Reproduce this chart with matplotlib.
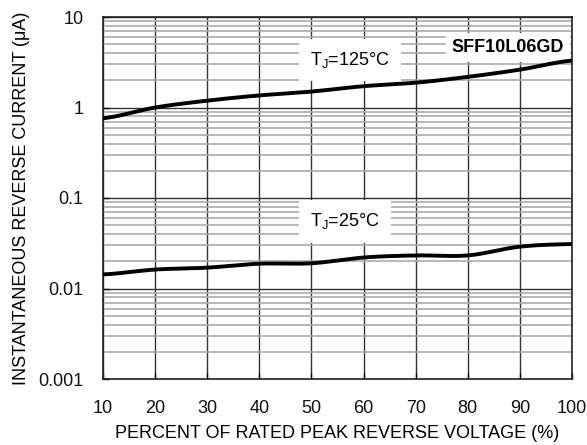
import matplotlib
matplotlib.use("Agg")
import matplotlib.pyplot as plt
import numpy as np
from matplotlib.ticker import LogLocator, NullFormatter

plt.rcParams['font.family'] = ['Liberation Sans', 'DejaVu Sans']

x_pct = [10, 20, 30, 40, 50, 60, 70, 80, 90, 100]
i_125 = [0.76, 1.0, 1.19, 1.36, 1.50, 1.72, 1.88, 2.18, 2.62, 3.3]
i_25 = [0.0143, 0.0162, 0.0170, 0.0188, 0.0190, 0.0220, 0.0232, 0.0232, 0.0290, 0.0310]
y_ticks = [0.001, 0.01, 0.1, 1, 10]
y_labels = ['0.001', '0.01', '0.1', '1', '10']
x_ticks = [10, 20, 30, 40, 50, 60, 70, 80, 90, 100]

fig = plt.figure(figsize=(5.87, 4.45), dpi=100)
ax = fig.add_axes([103/587, 1-379/445, (572-103)/587, (379-17)/445])

ax.set_yscale('log')
ax.set_xlim(10, 100)
ax.set_ylim(0.001, 10)

ax.yaxis.set_minor_locator(LogLocator(base=10, subs=np.arange(2, 10)))
ax.yaxis.set_minor_formatter(NullFormatter())
ax.set_yticks(y_ticks)
ax.set_yticklabels(y_labels)
ax.set_xticks(x_ticks)
ax.set_xticklabels([str(v) for v in x_ticks])

ax.grid(True, which='minor', axis='y', color='#ababab', linewidth=1.2, zorder=0)
ax.grid(True, which='major', axis='y', color='#333333', linewidth=1.0, zorder=0)
ax.grid(True, which='major', axis='x', color='#333333', linewidth=1.0, zorder=0)

ax.tick_params(axis='both', which='major', direction='in', length=4, width=1, labelsize=13, colors='#111111')
ax.tick_params(axis='x', which='major', pad=15)
ax.tick_params(axis='y', which='major', pad=14)
ax.tick_params(axis='y', which='minor', length=0)
for s in ax.spines.values():
    s.set_linewidth(1.2)
    s.set_color('#222222')

# smooth curves through points in log space
def smooth(xs, ys):
    xs = np.array(xs, float); ly = np.log10(ys)
    xf = np.linspace(xs[0], xs[-1], 300)
    out = []
    n = len(xs)
    for xv in xf:
        i = min(np.searchsorted(xs, xv, side='right') - 1, n - 2)
        t = (xv - xs[i]) / (xs[i+1] - xs[i])
        p0 = ly[max(i-1, 0)]; p1 = ly[i]; p2 = ly[i+1]; p3 = ly[min(i+2, n-1)]
        v = 0.5*((2*p1) + (-p0+p2)*t + (2*p0-5*p1+4*p2-p3)*t**2 + (-p0+3*p1-3*p2+p3)*t**3)
        out.append(v)
    return xf, 10**np.array(out)

xs, ys = smooth(x_pct, i_125)
ax.plot(xs, ys, color='black', linewidth=2.8, zorder=5, solid_capstyle='butt')
xs, ys = smooth(x_pct, i_25)
ax.plot(xs, ys, color='black', linewidth=2.8, zorder=5, solid_capstyle='butt')

ax.text(57.4, 3.35, r'T$_\mathregular{J}$=125°C', fontsize=13, ha='center', va='center',
        bbox=dict(facecolor='white', edgecolor='none', pad=8), zorder=4)
ax.text(87.7, 4.6, 'SFF10L06GD', fontsize=13, fontweight='bold', ha='center', va='center',
        bbox=dict(facecolor='white', edgecolor='none', pad=4), zorder=4)
ax.text(56.4, 0.055, r'T$_\mathregular{J}$=25°C', fontsize=13, ha='center', va='center',
        bbox=dict(facecolor='white', edgecolor='none', pad=8), zorder=4)

ax.set_xlabel('PERCENT OF RATED PEAK REVERSE VOLTAGE (%)', fontsize=13, labelpad=6)
ax.set_ylabel('INSTANTANEOUS REVERSE CURRENT (μA)', fontsize=13, labelpad=6)

fig.savefig('out.png', dpi=100)
